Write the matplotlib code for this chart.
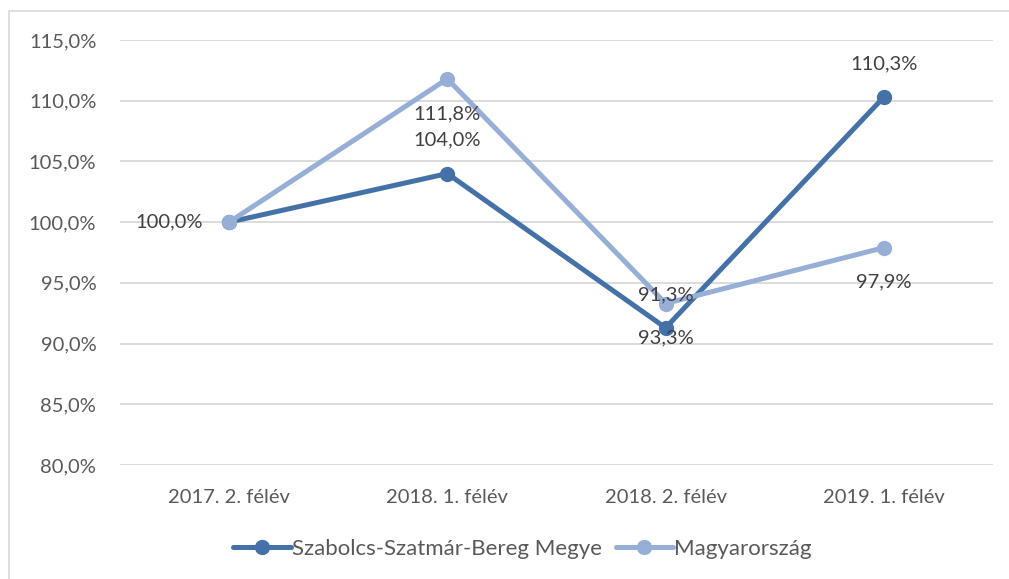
import matplotlib
matplotlib.use('Agg')
import matplotlib.pyplot as plt
from matplotlib.patches import Rectangle
from matplotlib.ticker import FuncFormatter

plt.rcParams['font.family'] = ['Lato', 'DejaVu Sans']

periods = ['2017. 2. félév', '2018. 1. félév', '2018. 2. félév', '2019. 1. félév']
szabolcs = [100.0, 104.0, 91.3, 110.3]
magyar = [100.0, 111.8, 93.3, 97.9]
szabolcs_labels = ['100,0%', '104,0%', '91,3%', '110,3%']
magyar_labels = ['100,0%', '111,8%', '93,3%', '97,9%']
y_ticks = [80, 85, 90, 95, 100, 105, 110, 115]

dark = '#4472A8'
light = '#97AED6'
fs = 14.5

fig = plt.figure(figsize=(10.09, 5.79), dpi=100)
ax = fig.add_axes([0.1189, 0.1969, 0.8652, 0.734])

x = list(range(len(periods)))
ax.plot(x, szabolcs, color=dark, lw=3.6, marker='o', ms=10,
        label='Szabolcs-Szatmár-Bereg Megye', zorder=3, solid_capstyle='round')
ax.plot(x, magyar, color=light, lw=3.6, marker='o', ms=10,
        label='Magyarország', zorder=3, solid_capstyle='round')

# data labels: first point to the left (both series overlap there), dark above, light below
ax.annotate(szabolcs_labels[0], (0, szabolcs[0]), xytext=(-43, 0), textcoords='offset points',
            ha='center', va='center', fontsize=fs, color='#404040', zorder=5)
for i in x[1:]:
    ax.annotate(szabolcs_labels[i], (i, szabolcs[i]), xytext=(0, 24),
                textcoords='offset points', ha='center', va='center',
                fontsize=fs, color='#404040', zorder=5)
    ax.annotate(magyar_labels[i], (i, magyar[i]), xytext=(0, -25),
                textcoords='offset points', ha='center', va='center',
                fontsize=fs, color='#404040', zorder=5)

ax.set_xlim(-0.5, 3.5)
ax.set_ylim(80, 115)
ax.set_yticks(y_ticks)
ax.yaxis.set_major_formatter(FuncFormatter(lambda v, p: f"{v:.1f}%".replace('.', ',')))
ax.set_xticks(x)
ax.set_xticklabels(periods)
ax.grid(axis='y', color='#D9D9D9', lw=1.3)
ax.set_axisbelow(True)
for s in ax.spines.values():
    s.set_visible(False)
ax.tick_params(length=0, labelsize=fs, labelcolor='#595959')
ax.tick_params(axis='x', pad=17)
ax.tick_params(axis='y', pad=17)

fig.legend(loc='center', bbox_to_anchor=(0.518, 0.052), ncol=2, frameon=False,
           fontsize=16, labelcolor='#595959', handlelength=2.6,
           handletextpad=0.05, columnspacing=0.6)

fig.patches.append(Rectangle((0.0089, -0.1), 1.2, 1.081, transform=fig.transFigure,
                             fill=False, edgecolor='#D9D9D9', lw=1.2))

fig.savefig('out.png', dpi=100)
